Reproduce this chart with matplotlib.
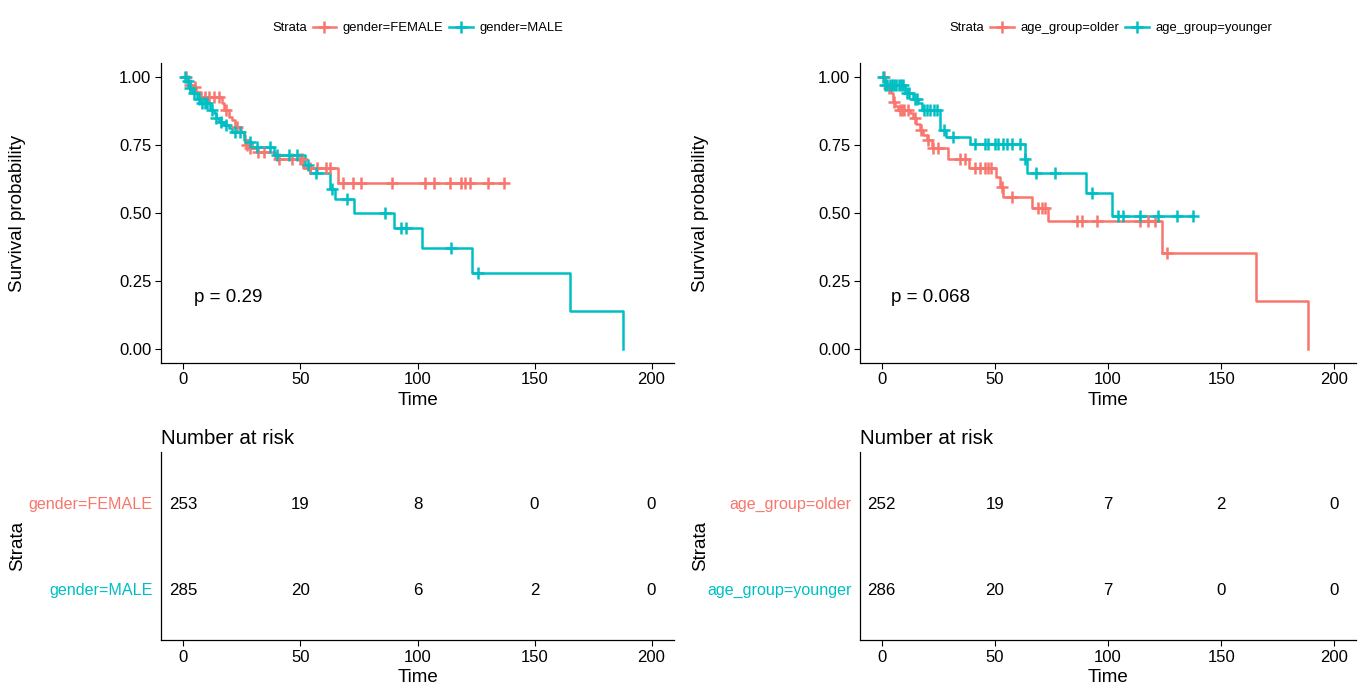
import numpy as np
import matplotlib
matplotlib.use('Agg')
import matplotlib.pyplot as plt
from matplotlib.lines import Line2D

plt.rcParams['font.family'] = ['Liberation Sans', 'DejaVu Sans']

RED = '#F8766D'
TEAL = '#00BFC4'

# ---- left panel: gender ----
fem_t = [0, 1.5, 3, 4.3, 5.5, 7.3, 16.5, 17.2, 19.4, 20.8, 22.2, 24.4, 25.8, 26.5, 28.6, 31.5, 39.3, 51, 66]
fem_s = [1.0, 0.985, 0.97, 0.963, 0.945, 0.925, 0.903, 0.879, 0.854, 0.842, 0.817, 0.799, 0.787, 0.75, 0.738,
         0.726, 0.70, 0.664, 0.61]
fem_cens = [1, 3, 5, 9, 11, 13, 15, 18, 23, 27, 28.6, 32, 34.4, 41, 46.5, 49.7, 50.7, 54, 57, 60.7, 62.8,
            68, 72.6, 76, 89, 103.4, 107, 114, 118.4, 120.5, 122.6, 130, 137]

male_t = [0, 1, 2.3, 3.7, 5.8, 7.3, 11.5, 13, 13.7, 15.1, 17.2, 19.4, 20.8, 25.8, 27.9, 29.3, 38.5, 52, 54,
          62.8, 64.6, 72.8, 90, 102, 123.4, 165, 188]
male_s = [1.0, 0.985, 0.958, 0.94, 0.92, 0.903, 0.879, 0.866, 0.848, 0.836, 0.824, 0.811, 0.799, 0.768, 0.762,
          0.741, 0.713, 0.676, 0.646, 0.59, 0.55, 0.50, 0.445, 0.371, 0.28, 0.14, 0.0]
male_cens = [0.5, 2, 3, 4.5, 6.5, 8, 9, 10, 12, 14, 16, 18, 22, 24, 28.5, 31.5, 37, 40, 45, 48.6, 53, 56.7,
             63.5, 69.7, 86, 93, 95, 114.5, 126]

# ---- right panel: age group ----
old_t = [0, 1.3, 2, 4.3, 4.8, 5, 6, 7.3, 12.4, 13.9, 15.3, 16.8, 18.3, 19.8, 22, 29.5, 38.5, 50.5, 52.2,
         53.7, 66.5, 73.6, 123.8, 165.3, 188.4]
old_s = [1.0, 0.983, 0.96, 0.94, 0.928, 0.909, 0.895, 0.879, 0.866, 0.848, 0.829, 0.805, 0.787, 0.768, 0.738,
         0.70, 0.664, 0.634, 0.597, 0.56, 0.517, 0.472, 0.352, 0.176, 0.0]
old_cens = [1, 3, 5.5, 8, 9, 10, 11.5, 14.5, 17.5, 20.5, 22.7, 24.9, 34.5, 36.7, 41.2, 43.4, 45.6, 47, 48.5,
            53, 57.4, 69.2, 70.7, 72.1, 86.1, 88.4, 95, 114.2, 117.8, 120.8, 126]

young_t = [0, 1.3, 10.2, 13.9, 16.1, 17.6, 25.7, 28.6, 38.9, 63.3, 64, 90.3, 101.6]
young_s = [1.0, 0.97, 0.94, 0.92, 0.903, 0.879, 0.805, 0.78, 0.752, 0.697, 0.646, 0.572, 0.489]
young_cens = [0.5, 1.5, 2.5, 3.5, 4.5, 5.5, 6.5, 7.5, 8.5, 9.5, 11, 12, 14.5, 15.5, 18.5, 20, 21.5, 23, 24.5,
              27.5, 31.5, 41.2, 45.6, 47, 50, 51.5, 53.7, 55.2, 57.4, 61.1, 63.5, 68.4, 76.5, 92.8, 104.6,
              106.8, 114.2, 122.3, 130.4, 137.7]

risk_times = [0, 50, 100, 150, 200]
risk_fem = [253, 19, 8, 0, 0]
risk_male = [285, 20, 6, 2, 0]
risk_old = [252, 19, 7, 2, 0]
risk_young = [286, 20, 7, 0, 0]

W, H = 1366, 695


def fx(px):
    return px / W


def fy(py):
    return 1 - py / H


def style(ax):
    for s in ['top', 'right']:
        ax.spines[s].set_visible(False)
    for s in ['left', 'bottom']:
        ax.spines[s].set_linewidth(0.9)
    ax.tick_params(labelsize=12, length=4, width=0.8, colors='black', pad=3)


def km(ax, t, s, cens, color):
    t = np.asarray(t, float)
    s = np.asarray(s, float)
    cens = np.asarray(cens, float)
    end = max(t[-1], cens.max())
    ax.step(np.append(t, end), np.append(s, s[-1]), where='post', color=color, lw=1.8, zorder=3)
    idx = np.searchsorted(t, cens, side='right') - 1
    ax.plot(cens, s[idx], ls='none', marker='+', ms=9, mew=1.8, color=color, zorder=4)


def panel(x0, x1, ylab_right, leg_shift, curves, pval, risks):
    # survival plot
    ax = fig.add_axes([fx(x0), fy(362.6), fx(x1) - fx(x0), fy(63.4) - fy(362.6)])
    for (t, s, c, col, _) in curves:
        km(ax, t, s, c, col)
    ax.set_xlim(-9.6, 209.6)
    ax.set_ylim(-0.05, 1.05)
    ax.set_xticks([0, 50, 100, 150, 200])
    ax.set_yticks([0, 0.25, 0.5, 0.75, 1.0])
    ax.set_yticklabels(['0.00', '0.25', '0.50', '0.75', '1.00'])
    style(ax)
    ax.set_xlabel('Time', fontsize=13.5)
    ax.set_ylabel('Survival probability', fontsize=13.5)
    lab_x = (ylab_right - x0) / (x1 - x0)
    ax.yaxis.set_label_coords(lab_x, 0.5)
    ax.xaxis.set_label_coords(0.5, -0.098)
    ax.text(4.3, 0.19, pval, fontsize=13.5, ha='left', va='center')

    # legend
    handles = [Line2D([], [], ls='none')]
    labels = ['Strata']
    for (_, _, _, col, name) in curves:
        handles.append(Line2D([], [], color=col, lw=1.8, marker='+', ms=9, mew=1.8))
        labels.append(name)
    fig.legend(handles, labels, ncol=3, loc='center',
               bbox_to_anchor=(fx((x0 + x1) / 2 - leg_shift), fy(28)), frameon=False,
               fontsize=9.4, handlelength=1.8, handletextpad=0.5, columnspacing=0.45)

    # risk table
    tb = fig.add_axes([fx(x0), fy(640), fx(x1) - fx(x0), fy(452) - fy(640)])
    tb.set_xlim(-9.6, 209.6)
    tb.set_ylim(0.4, 2.6)
    for row, (vals, col, name) in zip([2, 1], risks):
        for tt, v in zip(risk_times, vals):
            tb.text(tt, row, str(v), ha='center', va='center_baseline', fontsize=12.2)
    tb.set_xticks([0, 50, 100, 150, 200])
    tb.set_yticks([2, 1])
    tb.set_yticklabels([r[2] for r in risks])
    style(tb)
    tb.tick_params(axis='y', length=0, pad=6, labelsize=11.6)
    for lab, r in zip(tb.get_yticklabels(), risks):
        lab.set_color(r[1])
    tb.set_xlabel('Time', fontsize=13.5)
    tb.set_ylabel('Strata', fontsize=13.5)
    tb.yaxis.set_label_coords(lab_x, 0.5)
    tb.xaxis.set_label_coords(0.5, -0.155)
    tb.set_title('Number at risk', loc='left', fontsize=14.8, pad=6)
    return ax, tb


fig = plt.figure(figsize=(W / 100, H / 100), dpi=100)

panel(161, 674, 26, 15,
      [(fem_t, fem_s, fem_cens, RED, 'gender=FEMALE'),
       (male_t, male_s, male_cens, TEAL, 'gender=MALE')],
      'p = 0.29',
      [(risk_fem, RED, 'gender=FEMALE'), (risk_male, TEAL, 'gender=MALE')])

panel(860, 1356, 709, 12,
      [(old_t, old_s, old_cens, RED, 'age_group=older'),
       (young_t, young_s, young_cens, TEAL, 'age_group=younger')],
      'p = 0.068',
      [(risk_old, RED, 'age_group=older'), (risk_young, TEAL, 'age_group=younger')])

fig.savefig('out.png', dpi=100)
